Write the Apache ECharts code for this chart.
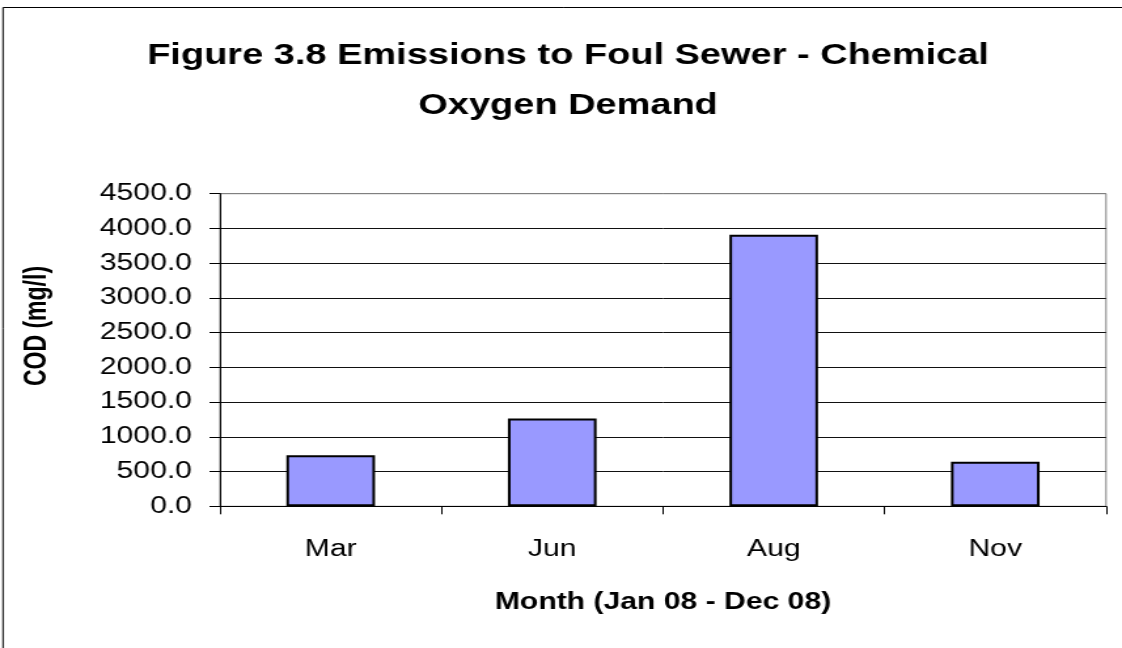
<!DOCTYPE html>
<html>
<head>
<meta charset="utf-8">
<script src="https://cdn.jsdelivr.net/npm/echarts@6/dist/echarts.min.js"></script>
<style>
  html, body { margin: 0; padding: 0; background: #fff; overflow: hidden; }
  #chart { width: 857px; height: 648px; transform: scaleX(1.3092); transform-origin: 0 0; }
</style>
</head>
<body>
<div id="chart"></div>
<script>
const titleLines = ['Figure 3.8 Emissions to Foul Sewer - Chemical', 'Oxygen Demand'];
const months = ['Mar', 'Jun', 'Aug', 'Nov'];
const codValues = [735, 1265, 3910, 640];
const yTicks = [0, 500, 1000, 1500, 2000, 2500, 3000, 3500, 4000, 4500];
const yAxisTitle = 'COD (mg/l)';
const xAxisTitle = 'Month (Jan 08 - Dec 08)';

const FONT = "'Liberation Sans', Arial, sans-serif";
const chart = echarts.init(document.getElementById('chart'), null, { renderer: 'canvas' });

const gridColors = yTicks.map((t, i) => i === yTicks.length - 1 ? '#808080' : '#111');

chart.setOption({
  backgroundColor: '#fff',
  animation: false,
  grid: { left: 168, right: 12.2, top: 193.7, bottom: 141.7, show: true, borderColor: '#808080', borderWidth: 1, backgroundColor: 'transparent' },
  xAxis: {
    type: 'category',
    data: months,
    name: xAxisTitle,
    nameLocation: 'middle',
    nameGap: 96,
    nameTextStyle: { fontFamily: FONT, fontSize: 23, fontWeight: 'bold', color: '#000', verticalAlign: 'middle' },
    axisLine: { lineStyle: { color: '#000', width: 1 } },
    axisTick: { show: true, length: 8, alignWithLabel: false, lineStyle: { color: '#000' } },
    axisLabel: { fontFamily: FONT, fontSize: 23, color: '#000', margin: 43, verticalAlign: 'middle' },
    splitLine: { show: false }
  },
  yAxis: {
    type: 'value',
    min: yTicks[0],
    max: yTicks[yTicks.length - 1],
    interval: yTicks[1] - yTicks[0],
    axisLine: { show: true, lineStyle: { color: '#000', width: 1 } },
    axisTick: { show: true, length: 8, lineStyle: { color: '#000' } },
    axisLabel: { fontFamily: FONT, fontSize: 23, color: '#000', margin: 21.4, formatter: v => v.toFixed(1) },
    splitLine: { show: true, lineStyle: { color: gridColors, width: 1 } }
  },
  series: [{
    type: 'bar',
    data: codValues,
    barWidth: '40%',
    itemStyle: { color: '#9999FF', borderColor: '#000', borderWidth: 2 }
  }],
  graphic: [
    { type: 'rect', shape: { x: 2.3, y: 7.5, width: 900, height: 700 }, style: { fill: 'none', stroke: '#000', lineWidth: 1 }, silent: true, z: -1 },
    { type: 'text', x: 433.9, y: 56, style: { text: titleLines[0], font: "bold 29px " + FONT, fill: '#000', textAlign: 'center', textVerticalAlign: 'middle' } },
    { type: 'text', x: 433.9, y: 106, style: { text: titleLines[1], font: "bold 29px " + FONT, fill: '#000', textAlign: 'center', textVerticalAlign: 'middle' } },
    { type: 'text', x: 29, y: 326, rotation: Math.PI / 2, style: { text: yAxisTitle, font: "bold 23px " + FONT, fill: '#000', textAlign: 'center', textVerticalAlign: 'middle' } }
  ]
});
</script>
</body>
</html>
